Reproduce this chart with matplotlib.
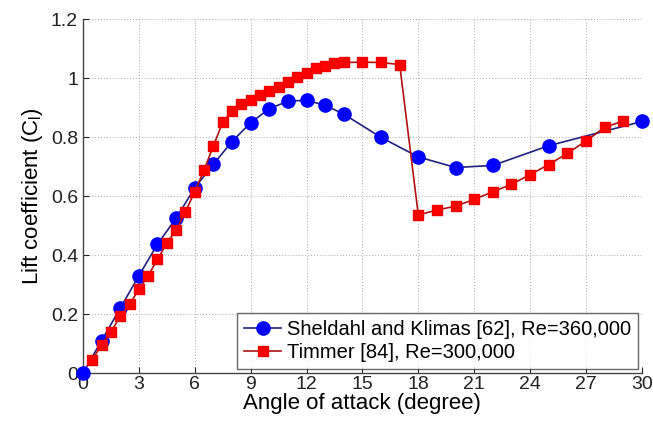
import matplotlib
matplotlib.use('Agg')
import matplotlib.pyplot as plt

# Sheldahl and Klimas [62], Re=360,000
sk_alpha = [0, 1, 2, 3, 4, 5, 6, 7, 8, 9, 10, 11, 12, 13, 14, 16, 18, 20, 22, 25, 30]
sk_cl = [0.0, 0.11, 0.22, 0.33, 0.437, 0.525, 0.628, 0.708, 0.785, 0.849, 0.896, 0.922,
         0.925, 0.908, 0.878, 0.799, 0.733, 0.697, 0.704, 0.771, 0.853]

# Timmer [84], Re=300,000
tm_alpha = [0.5, 1, 1.5, 2, 2.5, 3, 3.5, 4, 4.5, 5, 5.5, 6, 6.5, 7, 7.5, 8, 8.5, 9, 9.5,
            10, 10.5, 11, 11.5, 12, 12.5, 13, 13.5, 14, 15, 16, 17, 18, 19, 20, 21, 22,
            23, 24, 25, 26, 27, 28, 29]
tm_cl = [0.044, 0.097, 0.139, 0.193, 0.233, 0.284, 0.33, 0.386, 0.44, 0.485, 0.547,
         0.615, 0.688, 0.77, 0.85, 0.89, 0.912, 0.925, 0.942, 0.957, 0.971, 0.987,
         1.004, 1.019, 1.033, 1.042, 1.05, 1.053, 1.054, 1.053, 1.046, 0.536, 0.553,
         0.566, 0.589, 0.615, 0.64, 0.673, 0.707, 0.745, 0.787, 0.833, 0.855]

xticks = [0, 3, 6, 9, 12, 15, 18, 21, 24, 27, 30]
yticks = [0, 0.2, 0.4, 0.6, 0.8, 1, 1.2]
ytick_labels = ['0', '0.2', '0.4', '0.6', '0.8', '1', '1.2']

plt.rcParams['font.family'] = ['Liberation Sans', 'DejaVu Sans']
plt.rcParams['mathtext.default'] = 'regular'

fig = plt.figure(figsize=(6.53, 4.25), dpi=100)
ax = fig.add_axes([0.127, 0.122, 0.856, 0.833])

ax.plot(sk_alpha, sk_cl, color='#202080', lw=1.2, marker='o', markersize=9.5,
        markerfacecolor='#0000ff', markeredgecolor='#0000ff', clip_on=False,
        label='Sheldahl and Klimas [62], Re=360,000', zorder=3)
ax.plot(tm_alpha, tm_cl, color='#b01010', lw=1.2, marker='s', markersize=7.5,
        markerfacecolor='#ff0000', markeredgecolor='#ee0000', clip_on=False,
        label='Timmer [84], Re=300,000', zorder=3)

ax.set_xlim(0, 30)
ax.set_ylim(0, 1.2)
ax.set_xticks(xticks)
ax.set_yticks(yticks)
ax.set_yticklabels(ytick_labels)
ax.tick_params(direction='in', labelsize=14, length=4, width=0.8, colors='#222222')
ax.tick_params(axis='x', pad=2)
ax.grid(True, linestyle=(0, (1, 2)), color='#aaaaaa', lw=0.7)
for s in ['top', 'right']:
    ax.spines[s].set_visible(False)
for s in ['left', 'bottom']:
    ax.spines[s].set_color('#444444')
    ax.spines[s].set_linewidth(1.0)

ax.set_xlabel('Angle of attack (degree)', fontsize=16, labelpad=0)
ax.set_ylabel('Lift coefficient (C$_l$)', fontsize=16, labelpad=4)

leg = ax.legend(loc='lower right', fontsize=14.5, frameon=True, fancybox=False,
                handlelength=1.8, handletextpad=0.3, borderpad=0.35,
                labelspacing=0.2, borderaxespad=0.2)
leg.get_frame().set_edgecolor('#444444')
leg.get_frame().set_linewidth(1.0)

fig.savefig('out.png', dpi=100)
